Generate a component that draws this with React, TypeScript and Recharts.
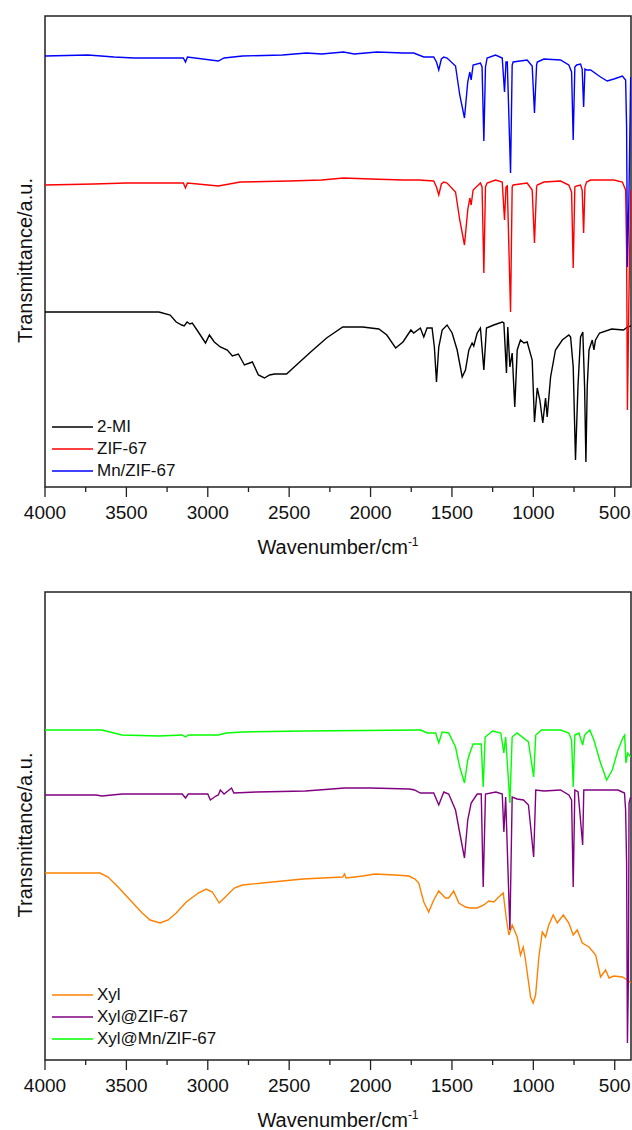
import React from 'react'
import { LineChart, Line, XAxis, YAxis, ReferenceArea, Legend, Label } from 'recharts'

// spectra as [wavenumber (cm-1), transmittance (a.u., stacked)]
const mi: [number, number][] = [
  [4000, 175], [3500, 175], [3300, 175], [3231, 172], [3194, 165], [3160, 162], [3145, 161], [3127, 165],
  [3110, 163], [3095, 164], [3058, 155], [3014, 144], [2990, 152], [2960, 145], [2923, 140], [2880, 137],
  [2849, 131], [2812, 133], [2775, 122], [2726, 125], [2689, 112], [2652, 109], [2620, 112], [2590, 113],
  [2516, 113], [2442, 124], [2368, 135], [2270, 149], [2171, 160], [2048, 160], [1949, 158], [1900, 152],
  [1846, 139], [1801, 145], [1752, 157], [1735, 154], [1694, 159], [1673, 150], [1653, 159], [1622, 159],
  [1608, 140], [1595, 105], [1581, 140], [1560, 157], [1530, 162], [1499, 154], [1468, 137], [1437, 110],
  [1417, 117], [1396, 137], [1376, 144], [1366, 141], [1345, 154], [1325, 159], [1304, 117], [1288, 159],
  [1243, 162], [1191, 165], [1181, 164], [1165, 114], [1157, 160], [1144, 120], [1130, 134], [1114, 80],
  [1099, 137], [1079, 147], [1058, 144], [1038, 145], [1007, 127], [993, 65], [976, 99], [960, 87],
  [942, 64], [925, 89], [915, 70], [894, 110], [864, 137], [822, 147], [782, 152], [771, 150],
  [755, 120], [741, 27], [726, 100], [710, 150], [696, 155], [685, 100], [677, 25], [669, 100],
  [658, 137], [638, 147], [628, 137], [618, 147], [593, 154], [519, 158], [446, 157], [421, 160], [400, 161],
]

const zif: [number, number][] = [
  [4000, 302], [3700, 303], [3500, 304], [3200, 304], [3150, 304], [3137, 299], [3125, 304], [2935, 301],
  [2800, 305], [2500, 306], [2300, 307], [2166, 309], [2000, 308], [1800, 307], [1700, 307], [1612, 306],
  [1595, 300], [1581, 292], [1565, 303], [1550, 305], [1530, 304], [1478, 295], [1452, 267], [1423, 242],
  [1403, 277], [1390, 289], [1382, 282], [1370, 297], [1325, 304], [1315, 300], [1304, 214], [1294, 300],
  [1284, 304], [1232, 307], [1191, 305], [1177, 267], [1168, 300], [1160, 301], [1140, 175], [1130, 300],
  [1124, 302], [1038, 304], [1007, 297], [993, 244], [980, 300], [976, 302], [935, 305], [833, 306],
  [782, 302], [765, 295], [755, 219], [745, 300], [734, 301], [710, 302], [700, 297], [691, 254],
  [683, 300], [673, 305], [648, 307], [587, 307], [505, 307], [453, 305], [433, 297], [427, 237],
  [422, 77], [413, 187], [402, 297],
]

const mnZif: [number, number][] = [
  [4000, 431], [3736, 432], [3576, 430], [3453, 429], [3200, 429], [3150, 429], [3137, 425], [3125, 430],
  [2935, 426], [2900, 429], [2787, 431], [2541, 432], [2393, 434], [2300, 433], [2166, 435], [2100, 433],
  [1961, 435], [1800, 434], [1735, 434], [1673, 430], [1612, 430], [1595, 425], [1581, 417], [1565, 428],
  [1550, 430], [1530, 429], [1478, 421], [1452, 392], [1423, 369], [1403, 405], [1390, 415], [1382, 407],
  [1370, 422], [1325, 424], [1315, 420], [1304, 346], [1294, 420], [1284, 429], [1232, 432], [1191, 429],
  [1177, 395], [1168, 425], [1160, 425], [1140, 314], [1130, 422], [1124, 425], [1038, 427], [1007, 421],
  [993, 374], [980, 422], [976, 425], [935, 428], [833, 427], [782, 422], [765, 415], [755, 347],
  [745, 420], [734, 422], [710, 423], [700, 418], [691, 380], [683, 418], [673, 417], [648, 417],
  [587, 410], [546, 406], [505, 408], [453, 411], [433, 407], [427, 360], [422, 220], [413, 287], [402, 410],
]

const xyl: [number, number][] = [
  [4000, 187], [3662, 187], [3613, 183], [3551, 173], [3477, 160], [3403, 147], [3354, 140], [3293, 137],
  [3243, 140], [3194, 147], [3132, 158], [3058, 167], [3009, 171], [2972, 168], [2930, 157], [2886, 164],
  [2837, 172], [2787, 175], [2664, 177], [2541, 179], [2417, 181], [2294, 182], [2171, 183], [2160, 186],
  [2150, 182], [2048, 184], [1974, 186], [1850, 185], [1764, 184], [1727, 181], [1704, 177], [1673, 158],
  [1643, 148], [1612, 160], [1581, 169], [1540, 162], [1520, 162], [1489, 169], [1458, 157], [1417, 153],
  [1386, 152], [1345, 152], [1304, 155], [1274, 159], [1243, 158], [1212, 163], [1185, 167], [1165, 140],
  [1150, 125], [1130, 135], [1099, 123], [1079, 105], [1062, 113], [1048, 100], [1017, 63], [1001, 57],
  [986, 65], [966, 103], [945, 128], [925, 123], [905, 135], [878, 145], [853, 137], [816, 145],
  [782, 137], [755, 125], [730, 130], [699, 117], [658, 113], [617, 105], [587, 83], [556, 90],
  [535, 82], [505, 84], [453, 83], [422, 80], [400, 77],
]

const xylZif: [number, number][] = [
  [4000, 265], [3687, 265], [3650, 264], [3527, 266], [3157, 266], [3137, 262], [3120, 266], [3000, 266],
  [2984, 260], [2950, 264], [2935, 265], [2923, 270], [2900, 266], [2854, 272], [2840, 267], [2700, 268],
  [2400, 269], [2159, 272], [2000, 272], [1760, 271], [1730, 270], [1694, 267], [1612, 267], [1581, 255],
  [1550, 268], [1520, 266], [1478, 250], [1452, 227], [1423, 202], [1403, 240], [1382, 257], [1345, 266],
  [1320, 266], [1308, 173], [1294, 266], [1230, 268], [1191, 266], [1181, 228], [1170, 263], [1144, 130],
  [1130, 263], [1100, 261], [1060, 260], [1030, 255], [998, 203], [985, 270], [935, 269], [833, 270],
  [782, 265], [765, 260], [755, 173], [745, 270], [725, 268], [697, 215], [690, 270], [600, 270],
  [480, 270], [440, 267], [433, 250], [427, 197], [422, 17], [416, 80], [412, 257], [402, 263],
]

const xylMnZif: [number, number][] = [
  [4000, 330], [3650, 330], [3600, 328], [3527, 325], [3300, 324], [3157, 325], [3137, 323], [3120, 325],
  [2935, 325], [2886, 327], [2787, 328], [2400, 329], [1703, 330], [1694, 330], [1650, 327], [1600, 327],
  [1581, 317], [1560, 328], [1520, 327], [1478, 313], [1452, 293], [1423, 277], [1403, 300], [1390, 307],
  [1370, 316], [1320, 316], [1308, 273], [1296, 323], [1250, 329], [1200, 327], [1181, 307], [1170, 323],
  [1144, 257], [1130, 323], [1100, 327], [1030, 318], [998, 283], [985, 325], [950, 330], [833, 330],
  [782, 327], [765, 320], [755, 273], [745, 325], [720, 327], [697, 315], [685, 325], [653, 330],
  [628, 320], [587, 297], [550, 280], [515, 290], [480, 310], [450, 322], [439, 325], [431, 297],
  [420, 307], [402, 303],
]

const xTicks = [4000, 3750, 3500, 3250, 3000, 2750, 2500, 2250, 2000, 1750, 1500, 1250, 1000, 750, 500]

const FONT = '"Liberation Sans", Arial, sans-serif'

const toPoints = (arr: [number, number][]) => arr.map(([wn, t]) => ({ wn, t }))

interface Series {
  name: string
  color: string
  points: [number, number][]
}

const topSeries: Series[] = [
  { name: '2-MI', color: '#000000', points: mi },
  { name: 'ZIF-67', color: '#ff0000', points: zif },
  { name: 'Mn/ZIF-67', color: '#0000ff', points: mnZif },
]

const bottomSeries: Series[] = [
  { name: 'Xyl', color: '#ff8000', points: xyl },
  { name: 'Xyl@ZIF-67', color: '#800080', points: xylZif },
  { name: 'Xyl@Mn/ZIF-67', color: '#00ff00', points: xylMnZif },
]

const XTick = (props: any) => {
  const { x, y, payload } = props
  const major = payload.value % 500 === 0
  return (
    <g>
      <line x1={x} x2={x} y1={y} y2={y + (major ? 10 : 5)} stroke="#222" strokeWidth={1.3} />
      {major && (
        <text x={x} y={y + 32} textAnchor="middle" fontSize={19} fontFamily={FONT} fill="#111">
          {payload.value}
        </text>
      )}
    </g>
  )
}

const XTitle = (props: any) => {
  const vb = props.viewBox || { x: 45, y: 487, width: 586, height: 0 }
  return (
    <text x={vb.x + vb.width / 2} y={vb.y + 67} textAnchor="middle" fontSize={20} fontFamily={FONT} fill="#111">
      Wavenumber/cm
      <tspan dy={-8} fontSize={12}>-1</tspan>
    </text>
  )
}

const YTitle = (props: any) => {
  const vb = props.viewBox || { x: 0, y: 16, width: 45, height: 471 }
  const cx = 25
  const cy = vb.y + vb.height / 2 + 9
  return (
    <text
      x={cx}
      y={cy}
      transform={`rotate(-90 ${cx} ${cy})`}
      textAnchor="middle"
      dominantBaseline="central"
      fontSize={20}
      fontFamily={FONT}
      fill="#111"
    >
      Transmittance/a.u.
    </text>
  )
}

function SpectraPanel({ series, top, yMax, legendTop }: { series: Series[]; top: number; yMax: number; legendTop: number }) {
  const renderLegend = () => (
    <div style={{ fontFamily: FONT, fontSize: 17, color: '#111' }}>
      {series.map(s => (
        <div key={s.name} style={{ display: 'flex', alignItems: 'center', height: 22 }}>
          <svg width={45} height={4} style={{ display: 'block' }}>
            <line x1={0} x2={41} y1={2} y2={2} stroke={s.color} strokeWidth={1.5} />
          </svg>
          <span>{s.name}</span>
        </div>
      ))}
    </div>
  )

  return (
    <LineChart width={632} height={565} margin={{ top, right: 1, left: 0, bottom: 0 }}>
      <XAxis
        dataKey="wn"
        type="number"
        domain={[400, 4000]}
        reversed
        ticks={xTicks}
        interval={0}
        tick={<XTick />}
        tickLine={false}
        axisLine={false}
        tickSize={0}
        tickMargin={0}
        height={565 - top - yMax}
        allowDataOverflow
      >
        <Label content={<XTitle />} />
      </XAxis>
      <YAxis type="number" domain={[0, yMax]} tick={false} axisLine={false} tickLine={false} width={45} allowDataOverflow>
        <Label content={<YTitle />} />
      </YAxis>
      <ReferenceArea x1={400} x2={4000} y1={0} y2={yMax} fill="none" stroke="#222" strokeWidth={1.5} ifOverflow="visible" />
      <Legend
        layout="vertical"
        align="center"
        verticalAlign="middle"
        content={renderLegend}
        wrapperStyle={{ left: 52, top: legendTop, width: 200 }}
      />
      {series.map(s => (
        <Line
          key={s.name}
          data={toPoints(s.points)}
          dataKey="t"
          name={s.name}
          type="linear"
          stroke={s.color}
          strokeWidth={1.4}
          dot={false}
          activeDot={false}
          isAnimationActive={false}
        />
      ))}
    </LineChart>
  )
}

export default function App() {
  return (
    <div style={{ position: 'absolute', left: 0, top: 0, width: 632, height: 1130, background: '#fff' }}>
      <div style={{ position: 'absolute', left: 0, top: 0 }}>
        <SpectraPanel series={topSeries} top={16} yMax={471} legendTop={416} />
      </div>
      <div style={{ position: 'absolute', left: 0, top: 565 }}>
        <SpectraPanel series={bottomSeries} top={27} yMax={468} legendTop={419} />
      </div>
    </div>
  )
}
